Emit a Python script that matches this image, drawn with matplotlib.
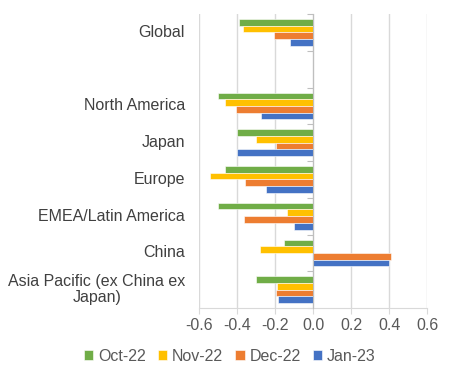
import numpy as np
import matplotlib
matplotlib.use("Agg")
import matplotlib.pyplot as plt
import matplotlib.transforms as mtransforms

plt.rcParams['font.family'] = ['Liberation Sans', 'DejaVu Sans']
plt.rcParams['font.size'] = 11.5

regions = ['Global', '', 'North America', 'Japan', 'Europe',
           'EMEA/Latin America', 'China', 'Asia Pacific (ex China ex\nJapan)']
months = ['Oct-22', 'Nov-22', 'Dec-22', 'Jan-23']
colors = ['#70AD47', '#FFC000', '#ED7D31', '#4472C4']

oct22 = [-0.39, np.nan, -0.50, -0.40, -0.465, -0.50, -0.155, -0.30]
nov22 = [-0.37, np.nan, -0.465, -0.30, -0.54, -0.135, -0.28, -0.19]
dec22 = [-0.205, np.nan, -0.405, -0.195, -0.355, -0.365, 0.41, -0.195]
jan23 = [-0.12, np.nan, -0.275, -0.40, -0.245, -0.10, 0.40, -0.185]
series = [oct22, nov22, dec22, jan23]

fig = plt.figure(figsize=(4.53, 3.78), dpi=100)
ax = fig.add_axes([0.439, 0.185, 0.504, 0.778])

y = np.arange(len(regions))
h = 0.182
for k, (vals, lab, col) in enumerate(zip(series, months, colors)):
    ax.barh(y + (k - 1.5) * h, vals, height=h, color=col, label=lab,
            edgecolor='white', linewidth=0.4, zorder=3)

ticks = np.arange(-0.6, 0.61, 0.2)
ax.set_xlim(-0.6, 0.6)
ax.set_ylim(len(regions) - 0.5, -0.5)
ax.set_xticks(ticks)
ax.set_xticklabels(['%.1f' % v for v in ticks])
ax.grid(axis='x', color='#d9d9d9', linewidth=1, zorder=0)

for s in ['top', 'right']:
    ax.spines[s].set_visible(False)
ax.spines['bottom'].set_color('#d9d9d9')
ax.spines['left'].set_position(('data', 0))
ax.spines['left'].set_color('#bfbfbf')
ax.spines['left'].set_zorder(4)

ax.set_yticks(np.arange(len(regions) + 1) - 0.5)
ax.set_yticklabels([])
ax.tick_params(axis='y', length=4, color='#bfbfbf', direction='out')
ax.tick_params(axis='x', length=4, color='#d9d9d9', labelcolor='#595959',
               labelsize=11.5)

trans = mtransforms.blended_transform_factory(ax.transAxes, ax.transData)
for i, name in enumerate(regions):
    if '\n' in name:
        ax.text(-0.447, i, name, transform=trans, ha='center', va='center',
                multialignment='center', color='#404040', fontsize=11.5,
                linespacing=1.05)
    else:
        ax.text(-0.061, i, name, transform=trans, ha='right', va='center',
                color='#404040', fontsize=11.5)

fig.legend(loc='center', bbox_to_anchor=(0.507, 0.058), ncol=4, frameon=False,
           handlelength=0.6, handleheight=0.6, handletextpad=0.3,
           columnspacing=0.75, fontsize=11.5, labelcolor='#595959')

fig.savefig('out.png', dpi=100)
